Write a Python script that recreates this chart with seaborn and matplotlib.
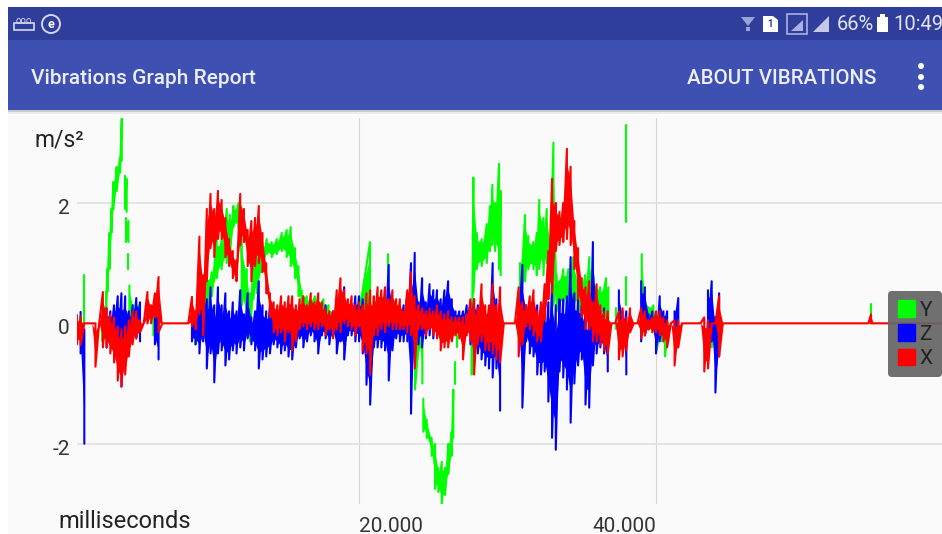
import numpy as np
import pandas as pd
import seaborn as sns
import matplotlib.pyplot as plt
from matplotlib.patches import Rectangle, Circle, Polygon, Patch
from matplotlib.transforms import ScaledTranslation

# sample clock shared by Z and X (ms)
sample_time = [1000, 1250, 1500, 1750, 2000, 2250, 2500, 2750, 3000, 3250,
               3500, 3750, 4000, 4250, 4500, 4750, 5000, 5250, 5500, 5750,
               6000, 6250, 6500, 6750, 7000, 7250, 7500, 7750, 8000, 8250,
               8500, 8750, 9000, 9250, 9500, 9750, 10000, 10250, 10500, 10750,
               11000, 11250, 11500, 11750, 12000, 12250, 12500, 12750, 13000, 13250,
               13500, 13750, 14000, 14250, 14500, 14750, 15000, 15250, 15500, 15750,
               16000, 16250, 16500, 16750, 17000, 17250, 17500, 17750, 18000, 18250,
               18500, 18750, 19000, 19250, 19500, 19750, 20000, 20250, 20500, 20750,
               21000, 21250, 21500, 21750, 22000, 22250, 22500, 22750, 23000, 23250,
               23500, 23750, 24000, 24250, 24500, 24750, 25000, 25250, 25500, 25750,
               26000, 26250, 26500, 26750, 27000, 27250, 27500, 27750, 28000, 28250,
               28500, 28750, 29000, 29250, 29500, 29750, 30000, 30250, 30500, 30750,
               31000, 31250, 31500, 31750, 32000, 32250, 32500, 32750, 33000, 33250,
               33500, 33750, 34000, 34250, 34500, 34750, 35000, 35250, 35500, 35750,
               36000, 36250, 36500, 36750, 37000, 37250, 37500, 37750, 38000, 38250,
               38500, 38750, 39000, 39250, 39500, 39750, 40000, 40250, 40500, 40750,
               41000, 41250, 41500, 41750, 42000, 42250, 42500, 42750, 43000, 43250,
               43500, 43750, 44000, 44250, 44500, 44750, 45000, 45250, 45500, 45750, 46000,
               54300, 54480, 54620, 59260]

z_hi = [0, .19, -.1, 0, 0, 0, 0, 0, .25, .2,
        .3, .45, .5, .45, .2, .3, .42, .35, 0, 0,
        0, .25, .2, 0, 0, 0, 0, 0, 0, 0,
        0, .1, .15, .3, .6, .4, .6, .3, .6, .3,
        .5, .2, .35, .2, .55, .15, .5, .1, .2, .7,
        .3, .2, .3, .15, .2, .1, .25, .1, .3, .15,
        .3, .1, .25, .3, .3, .1, .2, .3, .1, .2,
        .25, .1, .6, .2, .3, .45, .45, .4, .3, .35,
        .25, .35, .3, .3, .97, .4, .3, .25, .3, .5,
        1.0, 1.17, .35, .75, .35, .65, .55, .55, .4, .55,
        .7, .4, .2, .2, .2, .3, .35, .4, .3, .2,
        .2, .2, 1.0, .4, .35, 0, 0, 0, 0, .2,
        .97, .3, .2, .3, .3, .2, .2, .35, .7, .3,
        .4, .4, .45, 1.1, .5, .4, .3, .2, .15, 1.35,
        .3, .2, .25, .1, 0, 0, .55, .2, .2, 0,
        0, 0, .7, .6, .15, .2, .1, .45, .2, .2,
        0, .2, .42, 0, 0, 0, 0, 0, 0, 0,
        .55, .7, .1, .5, 0, 0, 0, 0, 0, 0, 0,
        0, 0, 0, 0]
z_lo = [0, -.5, -2.0, 0, 0, 0, 0, 0, -.4, -.35,
        -.3, -.5, -1.05, -.6, -.4, -.3, -.25, -.3, 0, 0,
        0, -.35, -.6, 0, 0, 0, 0, 0, 0, 0,
        0, -.3, -.35, -.5, -.3, -.75, -.5, -.98, -.5, -.45,
        -.7, -.6, -.45, -.5, -.4, -.45, -.25, -.35, -.45, -.75,
        -.6, -.55, -.5, -.35, -.4, -.5, -.45, -.55, -.6, -.4,
        -.25, -.4, -.3, -.2, -.3, -.5, -.2, -.25, -.35, -.2,
        -.5, -.3, -.6, -.2, -.2, -.3, -.3, -.5, -1.02, -1.35,
        -.4, -.4, -.4, -.45, -.95, -.45, -.25, -.3, -.3, -.3,
        -1.5, -.5, -.35, -.4, -.25, -.2, -.25, -.1, -.2, -.1,
        -.1, -.1, -.1, -.1, -.15, -.1, -.35, -.3, -.5, -.6,
        -.7, -.75, -.9, -.75, -1.45, 0, 0, 0, 0, -.15,
        -1.4, -.3, -.5, -.55, -.85, -.85, -.8, -1.3, -1.9, -2.1,
        -.8, -.9, -1.1, -1.65, -1.0, -.7, -.6, -1.35, -1.4, -.7,
        -.5, -.4, -.5, -.8, 0, 0, -.3, -.3, -.85, 0,
        0, 0, -.3, -.2, -.1, -.1, -.5, -.3, -.2, -.1,
        0, -.1, -.2, 0, 0, 0, 0, 0, 0, 0,
        -.25, -.3, -1.15, -.55, 0, 0, 0, 0, 0, 0, 0,
        0, 0, 0, 0]

x_hi = [.14, .12, 0, 0, 0, 0, 0, .52, .25, .15,
        .1, -.05, -.1, -.05, .05, .2, .2, .05, 0, .52,
        .3, .5, .77, 0, 0, 0, 0, 0, 0, 0,
        0, .44, .2, 1.44, .8, 1.9, 2.15, 1.9, 2.2, 2.05,
        1.75, 1.4, 1.2, 1.05, 2.15, 1.9, 1.55, 1.7, 1.75, 1.95,
        1.5, 1.0, .5, .35, .3, .45, .35, .45, .45, .3,
        .4, .45, .3, .5, .35, .5, .35, .25, .2, .2,
        .55, .75, .55, .4, .45, .3, .35, .3, .5, .55,
        .45, .6, .55, .6, .4, .55, .4, .4, .2, .55,
        .85, .45, .3, .25, .2, .25, .2, .3, .2, .15,
        .2, .1, .1, .1, .1, .15, .4, .4, .25, .65,
        .3, .3, .65, .3, .6, 0, 0, 0, 0, .6,
        .35, .3, .45, .55, .2, .35, .65, 1.2, 2.4, 2.0,
        1.85, 2.0, 2.9, 2.6, 1.7, 1.25, .75, .6, .7, .35,
        .65, .3, .2, .2, 0, 0, .2, .25, .1, .25,
        0, 0, .25, .2, .05, .1, .2, .2, .1, .05,
        0, .05, .05, 0, 0, 0, 0, 0, 0, .1,
        .05, 0, 0, .45, 0, 0, 0, 0, 0, 0, 0,
        0, .15, 0, 0]
x_lo = [-.35, -.36, 0, 0, 0, -.72, 0, -.4, -.4, -.5,
        -.65, -.95, -1.05, -.85, -.55, -.35, -.25, -.15, 0, 0,
        0, .1, -.15, 0, 0, 0, 0, 0, 0, 0,
        0, -.05, -.1, .15, -.2, .7, 1.25, 1.1, 1.4, 1.4,
        1.1, .95, .75, .7, 1.3, 1.35, .95, .7, .95, 1.0,
        .85, .5, .1, -.15, -.2, -.15, -.3, -.15, -.45, -.3,
        -.1, -.05, -.1, -.05, -.1, -.1, -.05, -.2, -.1, -.25,
        -.1, -.15, 0, -.05, -.1, -.2, -.05, -.45, -.5, -.85,
        -.2, -.2, -.1, -.15, -.05, -.1, -.1, -.1, -.1, -.15,
        -.2, -.75, -.1, -.1, -.2, -.1, -.2, -.25, -.45, -.4,
        -.4, -.3, -.2, -.25, -.6, -.2, -.3, -.85, -.35, -.3,
        -.45, -.45, -.5, -.6, -.65, 0, 0, 0, 0, -.55,
        -.35, -.05, -.1, -.2, -.3, -.3, .05, .4, .5, 1.2,
        1.3, 1.35, 1.4, 1.3, .9, .4, .1, -.1, -.1, -.3,
        -.3, -.35, -.45, -.5, 0, 0, -.6, -.55, -.45, -.15,
        0, 0, -.25, -.2, -.1, -.15, -.15, -.2, -.3, -.4,
        0, -.7, -.4, 0, 0, 0, 0, 0, 0, -.8,
        -.75, 0, 0, -.55, 0, 0, 0, 0, 0, 0, 0,
        0, 0, 0, 0]

# Y has its own times, nan marks the breaks in the trace
nan = float('nan')
y_time = [1460, 1461, 2716, 2717,
          2963, 3050, 3190, 3320, 3460, 3680, 3900, 4020, 4021,
          4240, 4350, 4351, 4310, 4470, 4471, 4472, 4473,
          4535, 4800, 5100, 5101, 6150, 6400, 6401,
          8960, 9295, 9740, 10080, 10420, 10750, 11090, 11300, 11540, 11880, 12100,
          12440, 12660, 12890, 13110, 13450, 13780, 14120, 14460, 14800, 15130, 15400,
          15690, 15920, 16140, 16480, 17040, 17600, 17940, 18500, 19850, 20740, 20741,
          21930, 21931, 23770, 24110, 24265, 24266,
          24330, 24560, 24895, 25120, 25340, 25570, 25790, 26020, 26240, 26350, 26351,
          26465, 26466, 26580, 26581,
          27590, 27700, 27925, 28260, 28600, 28820, 28980, 29160, 29430, 29540, 29541,
          30840, 31180, 31400, 31740, 31970, 32140, 32420, 32640, 32860, 33090, 33310,
          33760, 34100, 34430, 34880, 35220, 35510, 35780, 36230, 36630, 36790, 36791,
          37300, 37301, 37980, 37981, 37982, 37983,
          39040, 39260, 39820, 40050, 40390, 40610, 40830, 40831,
          43530, 43750, 43980, 44200, 44201, 54480, 54481]
y_hi = [.8, nan, 0, nan,
        .52, .9, 1.5, 1.9, 2.35, 2.6, 2.75, 3.4, nan,
        2.45, 2.4, nan, 1.75, 1.7, nan, 1.15, nan,
        .63, .3, .3, nan, .3, .35, nan,
        0, .9, .85, .85, 1.4, 1.4, 1.9, 1.8, 1.95, 2.0, 1.4,
        .9, .5, 1.2, 1.2, 1.3, 1.4, 1.35, 1.4, 1.5, 1.55, 1.6,
        1.25, .95, .55, .45, .45, .4, .3, .2, .3, 1.35, nan,
        1.15, nan, 0, 0, -.4, nan,
        -1.25, -1.6, -1.9, -2.0, -2.4, -2.3, -2.4, -2.0, -1.8, -1.1, nan,
        -.65, nan, -.2, nan,
        0, 2.42, 1.5, 1.4, 1.65, 1.95, 2.3, 2.0, 2.65, 2.2, nan,
        1.0, 1.8, 1.45, 1.35, 1.5, 2.05, 1.75, 1.9, 1.4, 3.0, .8,
        .9, .9, 1.1, .6, .8, 1.1, .8, .6, .75, .6, nan,
        .25, nan, 3.29, nan, .77, nan,
        1.15, .4, .3, .1, .1, .05, 0, nan,
        .05, .1, .1, .05, nan, .32, nan]
y_lo = [0, nan, -.3, nan,
        .2, .52, .9, 1.5, 1.9, 2.2, 2.5, 2.7, nan,
        1.9, 1.85, nan, 1.35, 1.35, nan, .9, nan,
        -.05, 0, 0, nan, -.2, -.2, nan,
        -.35, -.2, .1, .45, .75, .9, 1.0, 1.1, 1.6, 1.6, .3,
        0, -.3, .4, .5, .85, 1.15, 1.1, 1.15, 1.2, 1.1, .95,
        .75, .45, .25, .1, .1, .05, -.1, -.1, -.1, 0, nan,
        .3, nan, -1.1, -.4, -1.0, nan,
        -1.8, -1.9, -2.2, -2.75, -2.8, -3.0, -2.85, -2.5, -2.2, -1.9, nan,
        -1.0, nan, -.4, nan,
        -.85, .5, .9, .95, 1.0, 1.2, 1.3, 1.2, .9, .8, nan,
        .2, .7, .9, .9, .8, .9, .8, 1.0, .7, .3, .2,
        .3, .3, .3, .2, .1, .1, .1, .1, .1, 0, nan,
        -.1, nan, 1.68, nan, .3, nan,
        .3, 0, -.1, -.45, -.3, -.55, -.3, nan,
        -.3, -.4, -.2, -.5, nan, 0, nan]

series_names = ['Y', 'Z', 'X']
series_colors = ['#00ff00', '#0000ff', '#ff0000']
ytick_vals = [-2, 0, 2]
xtick_vals = [20000, 40000]
xtick_labels = ['20.000', '40.000']


def trace(name, times, hi, lo):
    # every sample is a hi/lo pair so the line zigzags like the raw signal
    rows = []
    seg = 0
    for t, a, b in zip(times, hi, lo):
        # X carries the flat baseline, Z stays quiet there
        if np.isnan(a) or (name == 'Z' and a == 0 and b == 0):
            seg += 1
            continue
        rows.append((seg, t, a, b))
    return pd.DataFrame(rows, columns=['seg', 'time', 'hi', 'lo'])


traces = {'Y': trace('Y', y_time, y_hi, y_lo),
          'Z': trace('Z', sample_time, z_hi, z_lo),
          'X': trace('X', sample_time, x_hi, x_lo)}

sns.set_theme(style='white')
plt.rcParams['font.family'] = ['Roboto', 'DejaVu Sans']

W, H = 942, 534
fig = plt.figure(figsize=(W / 100, H / 100), dpi=100, facecolor='white')

# phone screen behind the chart, in pixels
bg = fig.add_axes([0, 0, 1, 1], zorder=0)
bg.set_xlim(0, W)
bg.set_ylim(H, 0)
bg.axis('off')
bg.add_patch(Rectangle((8, 110), W - 8, H - 110, color='#fafafa', lw=0))
bg.add_patch(Rectangle((8, 7), W - 8, 33, color='#2f3d9b', lw=0))
bg.add_patch(Rectangle((8, 40), W - 8, 70, color='#3e50b2', lw=0))
bg.add_patch(Rectangle((8, 110), W - 8, 2, color='#c9c9cf', lw=0))
bg.add_patch(Rectangle((8, 112), W - 8, 2, color='#ececee', lw=0))

icon = '#d5d8ee'
bg.add_patch(Rectangle((14, 23), 20, 7, fc='none', ec=icon, lw=1.2))
bg.text(24, 21, 'ooo', color=icon, fontsize=7, ha='center', va='center')
bg.add_patch(Circle((51, 24), 9, fc='none', ec=icon, lw=1.4))
bg.text(51, 24, 'e', color='white', fontsize=9, weight='bold', ha='center', va='center')
bg.add_patch(Polygon([[741, 17], [755, 17], [748, 26]], fc='#9aa3d6', lw=0))
bg.add_patch(Rectangle((746, 27), 4, 4, fc='#9aa3d6', lw=0))
bg.add_patch(Polygon([[763, 16], [773, 16], [778, 20], [778, 32], [763, 32]], fc='white', lw=0))
bg.text(770, 24, '1', color='#2f3d9b', fontsize=7, weight='bold', ha='center', va='center')
bg.add_patch(Rectangle((787, 14), 20, 20, fc='none', ec='#aab1de', lw=1.2))
bg.add_patch(Polygon([[791, 31], [803, 31], [803, 20]], fc='#aab1de', lw=0))
bg.add_patch(Polygon([[813, 32], [829, 32], [829, 16]], fc='#c4c9e8', lw=0))
bg.add_patch(Rectangle((877, 17), 11, 15, fc='white', lw=0))
bg.add_patch(Rectangle((880, 14), 5, 3, fc='white', lw=0))
for dot_y in [66, 77, 87]:
    bg.add_patch(Circle((921, dot_y), 3, fc='white', lw=0))

bar_text = '#eceef8'
bg.text(31, 78.5, 'Vibrations Graph Report', color=bar_text, fontsize=15, weight='medium', va='center')
bg.text(687, 78.5, 'ABOUT VIBRATIONS', color=bar_text, fontsize=14.8, weight='medium', va='center')
bg.text(837, 25, '66%', color='#e3e5f4', fontsize=14.5, va='center')
bg.text(943, 25, '10:49', color='#e3e5f4', fontsize=14.5, ha='right', va='center')
bg.text(35, 140, 'm/s\u00b2', color='#222222', fontsize=16.5, va='center')
bg.text(58, 521, 'milliseconds', color='#222222', fontsize=17, va='center')

# chart area: 76.9 -> 942 px, 118 -> 504 px
ax = fig.add_axes([76.9 / W, 1 - 504 / H, (942 - 76.9) / W, (504 - 118) / H], zorder=1)
ax.patch.set_alpha(0)
for k, (name, color) in enumerate(zip(series_names, series_colors)):
    tr = traces[name]
    z = 3 + k
    for seg, part in tr.groupby('seg'):
        # the dense part of the signal reads as a solid core
        mid = (part['hi'] + part['lo']) / 2
        half = (part['hi'] - part['lo']) * 0.32
        ax.fill_between(part['time'], mid - half, mid + half, color=color, lw=0, zorder=z)
    long_df = tr.melt(id_vars=['seg', 'time'], value_vars=['hi', 'lo'], value_name='value', ignore_index=False)
    long_df = long_df.sort_index(kind='stable')
    sns.lineplot(data=long_df, x='time', y='value', units='seg', estimator=None, sort=False,
                 color=color, linewidth=1.5, zorder=z, ax=ax)
ax.set_xlim(1000, 59260)
ax.set_ylim(-3.0, 3.41)
ax.set_xlabel('')
ax.set_ylabel('')
sns.despine(ax=ax, left=True, bottom=True)
ax.grid(True, axis='y', color='#e0e0e0', lw=1.2)
ax.grid(True, axis='x', color='#d6d6d6', lw=0.8)
ax.set_axisbelow(True)

ax.set_yticks(ytick_vals)
ax.set_yticklabels([str(v) for v in ytick_vals], fontsize=15, color='#333333')
ax.tick_params(axis='y', pad=5, length=0)
for label in ax.get_yticklabels():
    label.set_transform(label.get_transform() + ScaledTranslation(0, -3.5 / 100, fig.dpi_scale_trans))
ax.set_xticks(xtick_vals)
ax.set_xticklabels(xtick_labels, fontsize=15, color='#333333')
ax.tick_params(axis='x', pad=9, length=0)
ax.get_xticklabels()[0].set_ha('left')
ax.get_xticklabels()[1].set_ha('right')

handles = [Patch(color=c, label=n) for n, c in zip(series_names, series_colors)]
leg = ax.legend(handles=handles, loc='center right', bbox_to_anchor=(1.0, 0.44), borderaxespad=0,
                frameon=True, fancybox=True, framealpha=0.93, facecolor='#666666', edgecolor='none',
                fontsize=15, handlelength=0.85, handleheight=0.85, labelspacing=0.22,
                handletextpad=0.2, borderpad=0.45)
leg.set_zorder(10)
for label in leg.get_texts():
    label.set_color('#222222')

fig.savefig('out.png', dpi=100)
